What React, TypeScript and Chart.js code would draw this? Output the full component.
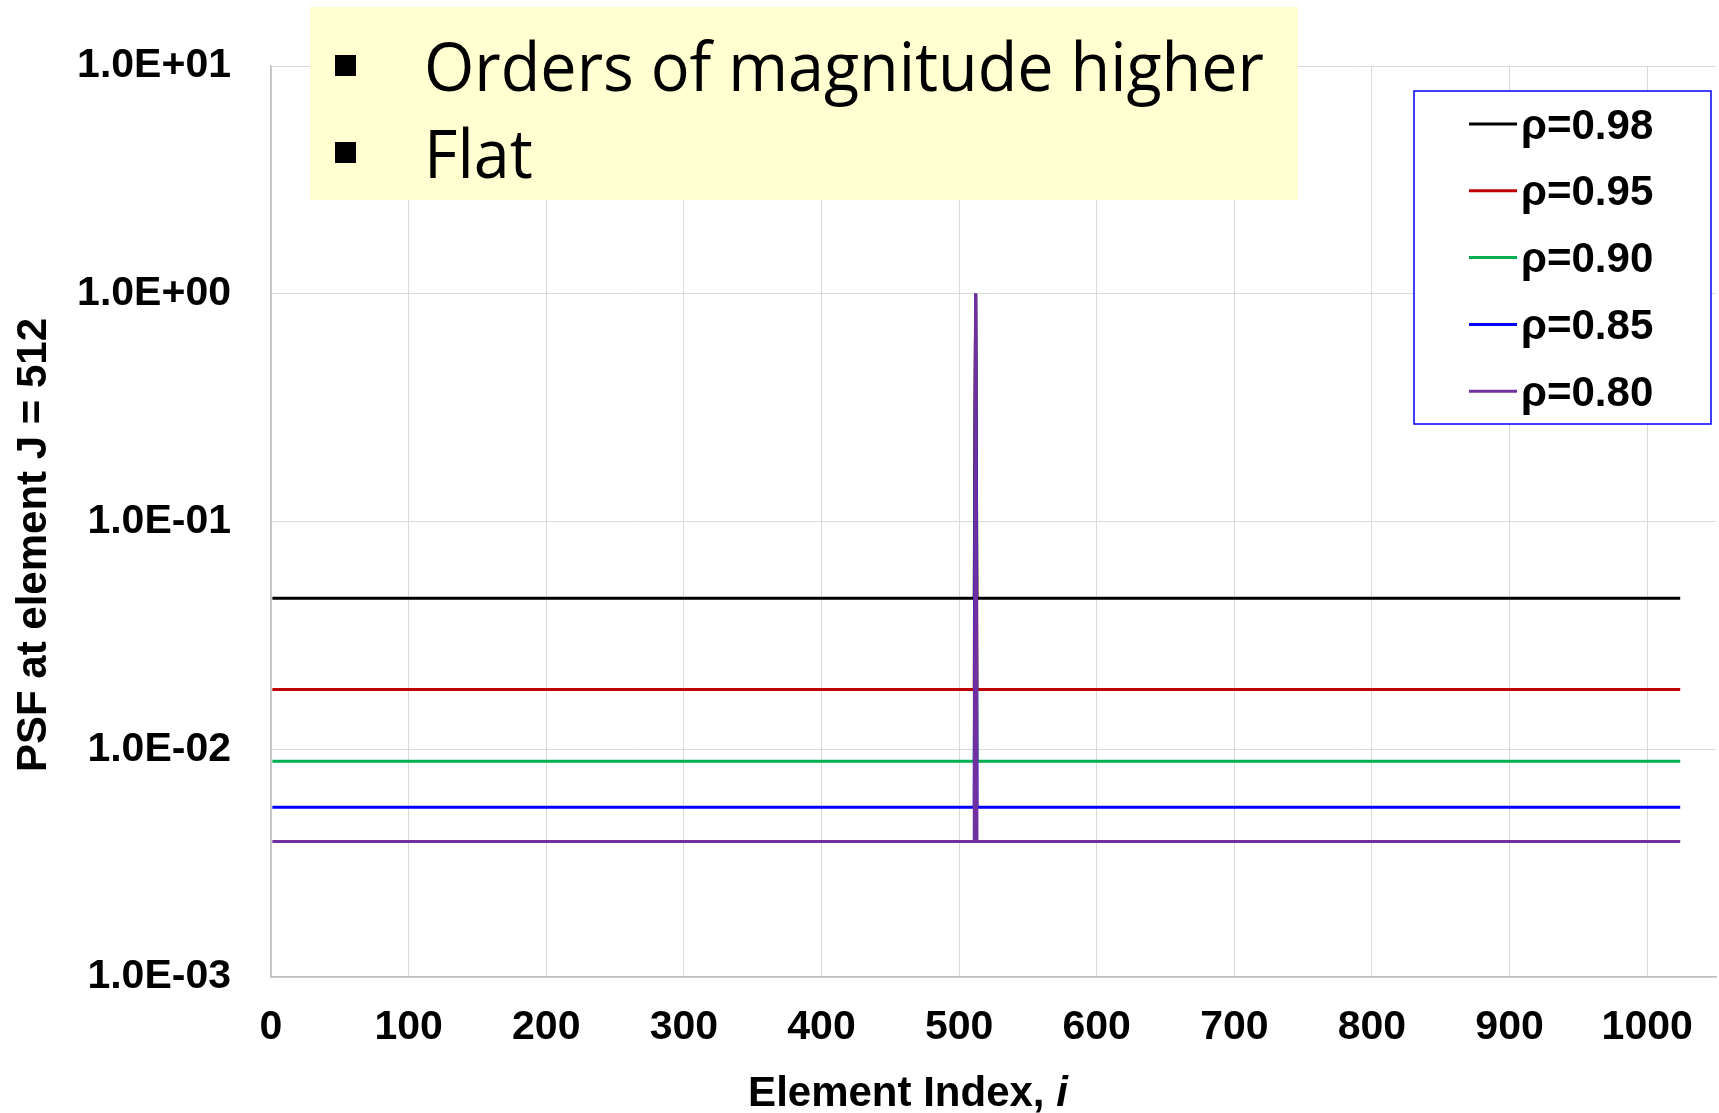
import { useEffect, useRef } from "react";
import { Chart, registerables } from "chart.js";

Chart.register(...registerables);

// Series: correlation coefficient of each curve
const seriesLabels = ["ρ=0.98", "ρ=0.95", "ρ=0.90", "ρ=0.85", "ρ=0.80"];
const seriesColors = ["#000000", "#C00000", "#00B050", "#0000FF", "#7030A0"];
// Flat PSF level of each series away from the centre element
const flatLevels = [0.046, 0.0183, 0.00885, 0.00556, 0.00394];
// PSF value at the centre element J
const peakLevel = 1.0;
const centreElement = 512;
// Element indices where the profile changes: both ends and either side of J
const elementIndex = [1, 511, 512, 513, 1024];

const xTickValues = [0, 100, 200, 300, 400, 500, 600, 700, 800, 900, 1000];
const xTickLabels = ["0", "100", "200", "300", "400", "500", "600", "700", "800", "900", "1000"];
const yTickValues = [0.001, 0.01, 0.1, 1, 10];
const yTickLabels = ["1.0E-03", "1.0E-02", "1.0E-01", "1.0E+00", "1.0E+01"];

const xTitle = "Element Index, ";
const xTitleVar = "i";
const yTitle = "PSF at element J = 512";
const notes = ["Orders of magnitude higher", "Flat"];

const W = 1719;
const H = 1113;
const FONT = '"Liberation Sans", Arial, sans-serif';

const overlayPlugin = {
  id: "overlay",
  afterDraw(chart: any) {
    const ctx: CanvasRenderingContext2D = chart.ctx;
    ctx.save();

    // Axis titles
    ctx.fillStyle = "#000";
    ctx.font = `bold 42px ${FONT}`;
    ctx.textBaseline = "middle";
    const w1 = ctx.measureText(xTitle).width;
    ctx.font = `italic bold 42px ${FONT}`;
    const w2 = ctx.measureText(xTitleVar).width;
    const sx = 908 - (w1 + w2) / 2;
    ctx.font = `bold 42px ${FONT}`;
    ctx.textAlign = "left";
    ctx.fillText(xTitle, sx, 1094);
    ctx.font = `italic bold 42px ${FONT}`;
    ctx.fillText(xTitleVar, sx + w1, 1094);

    ctx.save();
    ctx.translate(34, 545);
    ctx.rotate(-Math.PI / 2);
    ctx.font = `bold 42px ${FONT}`;
    ctx.textAlign = "center";
    ctx.fillText(yTitle, 0, 0);
    ctx.restore();

    // Legend box
    ctx.fillStyle = "#ffffff";
    ctx.fillRect(1414, 91, 297, 333);
    ctx.strokeStyle = "#0000FF";
    ctx.lineWidth = 1.5;
    ctx.strokeRect(1414, 91, 297, 333);
    chart.data.datasets.forEach((ds: any, i: number) => {
      const y = 124 + i * 66.8;
      ctx.strokeStyle = ds.borderColor;
      ctx.lineWidth = 3;
      ctx.beginPath();
      ctx.moveTo(1469, y);
      ctx.lineTo(1517, y);
      ctx.stroke();
      ctx.fillStyle = "#000";
      ctx.font = `bold 42px ${FONT}`;
      ctx.textAlign = "left";
      ctx.textBaseline = "middle";
      ctx.fillText(ds.label, 1521, y + 3);
    });

    // Note box
    ctx.fillStyle = "#FFFFD1";
    ctx.fillRect(310, 7, 988, 193);
    ctx.fillStyle = "#000";
    ctx.fillRect(335, 55, 21, 21);
    ctx.fillRect(335, 142, 21, 21);
    ctx.font = `68px "Open Sans", ${FONT}`;
    ctx.textBaseline = "alphabetic";
    const nw = ctx.measureText(notes[0]).width;
    const scale = 840 / nw;
    const baselines = [91, 178];
    notes.forEach((t, i) => {
      ctx.save();
      ctx.translate(424, baselines[i]);
      ctx.scale(scale, 1);
      ctx.fillText(t, 0, 0);
      ctx.restore();
    });

    ctx.restore();
  },
};

export default function App() {
  const ref = useRef<HTMLCanvasElement>(null);

  useEffect(() => {
    if (!ref.current) return;
    const datasets = seriesLabels.map((label, s) => ({
      label,
      data: elementIndex.map((x) => ({
        x,
        y: x === centreElement ? peakLevel : flatLevels[s],
      })),
      borderColor: seriesColors[s],
      backgroundColor: seriesColors[s],
      borderWidth: 3,
      pointRadius: 0,
      tension: 0,
      fill: false,
      order: seriesLabels.length - s,
    }));

    const chart = new Chart(ref.current, {
      type: "line",
      data: { datasets },
      options: {
        animation: false,
        responsive: false,
        devicePixelRatio: 1,
        layout: { padding: { top: 66, right: 3, left: 0, bottom: 0 } },
        plugins: { legend: { display: false }, tooltip: { enabled: false } },
        scales: {
          x: {
            type: "linear",
            min: 0,
            max: 1050,
            afterBuildTicks: (s: any) => {
              s.ticks = xTickValues.map((v) => ({ value: v }));
            },
            afterFit: (s: any) => {
              s.height = H - 977;
              s.paddingRight = 0;
            },
            ticks: {
              autoSkip: false,
              maxRotation: 0,
              padding: 26,
              color: "#000",
              font: { family: FONT, size: 41, weight: "bold" },
              callback: (_v: any, i: number) => xTickLabels[i],
            },
            grid: { color: "#d9d9d9", lineWidth: 1, drawTicks: false },
            border: { color: "#bfbfbf", width: 1.5 },
          },
          y: {
            type: "logarithmic",
            min: 0.001,
            max: 10,
            afterBuildTicks: (s: any) => {
              s.ticks = yTickValues.map((v) => ({ value: v }));
            },
            afterFit: (s: any) => {
              s.width = 271;
            },
            ticks: {
              autoSkip: false,
              padding: 40,
              color: "#000",
              font: { family: FONT, size: 41, weight: "bold" },
              callback: (_v: any, i: number) => yTickLabels[i],
            },
            grid: { color: "#d9d9d9", lineWidth: 1, drawTicks: false },
            border: { color: "#bfbfbf", width: 1.5 },
          },
        },
      },
      plugins: [overlayPlugin],
    } as any);
    return () => chart.destroy();
  }, []);

  return (
    <div style={{ position: "fixed", left: 0, top: 0, width: W, height: H, background: "#fff" }}>
      <canvas ref={ref} width={W} height={H} style={{ width: W, height: H, display: "block" }} />
    </div>
  );
}
